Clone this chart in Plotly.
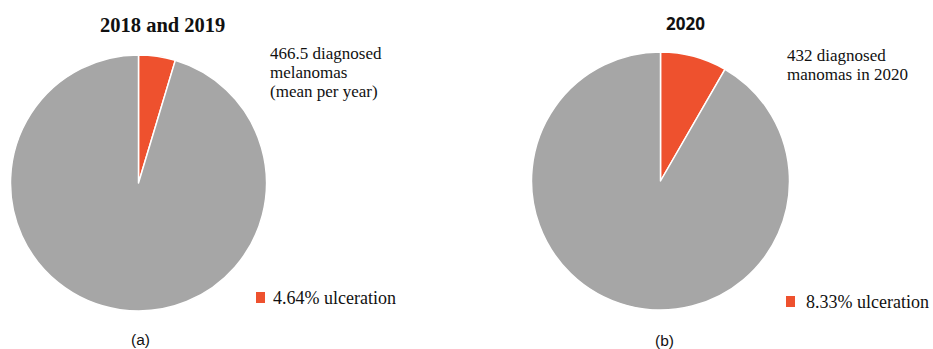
import plotly.graph_objects as go

W, H = 933, 349

labels = ["Ulceration", "No ulceration"]
values_a = [4.64, 95.36]
values_b = [8.33, 91.67]
titles = ["2018 and 2019", "2020"]
notes_a = ["466.5 diagnosed", "melanomas", "(mean per year)"]
notes_b = ["432 diagnosed", "manomas in 2020"]
legend_texts = ["4.64% ulceration", "8.33% ulceration"]
panel_labels = ["(a)", "(b)"]

ORANGE = "#EE512E"
GRAY = "#A6A6A6"

def dom(cx, cy, r):
    return dict(x=[(cx - r) / W, (cx + r) / W], y=[(H - cy - r) / H, (H - cy + r) / H])

fig = go.Figure()
for vals, d in [(values_a, dom(138.5, 183, 128)), (values_b, dom(660.5, 181, 129))]:
    fig.add_trace(go.Pie(
        labels=labels, values=vals, domain=d, sort=False, direction="clockwise",
        rotation=0, textinfo="none", hoverinfo="label+percent", showlegend=False,
        marker=dict(colors=[ORANGE, GRAY], line=dict(color="white", width=1.5)),
    ))

serif = "Liberation Serif, serif"
ann = []
ann.append(dict(x=162 / W, y=(H - 25) / H, text="<b>" + titles[0] + "</b>",
                font=dict(family=serif, size=20.5, color="#111")))
ann.append(dict(x=685 / W, y=(H - 24) / H, text="<b>" + titles[1] + "</b>",
                font=dict(family="Noto Sans, sans-serif", size=17, color="#111")))
for i, t in enumerate(notes_a):
    ann.append(dict(x=268 / W, y=(H - (53 + 19 * i)) / H, text=t, xanchor="left",
                    font=dict(family=serif, size=17, color="#111")))
for i, t in enumerate(notes_b):
    ann.append(dict(x=785 / W, y=(H - (55 + 19 * i)) / H, text=t, xanchor="left",
                    font=dict(family=serif, size=17, color="#111")))
ann.append(dict(x=271 / W, y=(H - 298) / H, text=legend_texts[0], xanchor="left",
                font=dict(family=serif, size=18, color="#111")))
ann.append(dict(x=804 / W, y=(H - 302) / H, text=legend_texts[1], xanchor="left",
                font=dict(family=serif, size=18, color="#111")))
ann.append(dict(x=140 / W, y=(H - 339) / H, text=panel_labels[0],
                font=dict(family="Liberation Sans, sans-serif", size=15.5, color="#111")))
ann.append(dict(x=664 / W, y=(H - 340) / H, text=panel_labels[1],
                font=dict(family="Liberation Sans, sans-serif", size=15.5, color="#111")))
for a in ann:
    a.update(xref="paper", yref="paper", showarrow=False)
    a.setdefault("xanchor", "center")
    a.setdefault("yanchor", "middle")

shapes = [
    dict(type="rect", xref="paper", yref="paper", x0=256 / W, x1=265 / W,
         y0=(H - 303) / H, y1=(H - 292) / H, fillcolor=ORANGE, line=dict(width=0)),
    dict(type="rect", xref="paper", yref="paper", x0=786 / W, x1=795 / W,
         y0=(H - 307) / H, y1=(H - 296) / H, fillcolor=ORANGE, line=dict(width=0)),
]

fig.update_layout(width=W, height=H, margin=dict(l=0, r=0, t=0, b=0),
                  paper_bgcolor="white", plot_bgcolor="white",
                  annotations=ann, shapes=shapes)
fig.write_html("out.html")
